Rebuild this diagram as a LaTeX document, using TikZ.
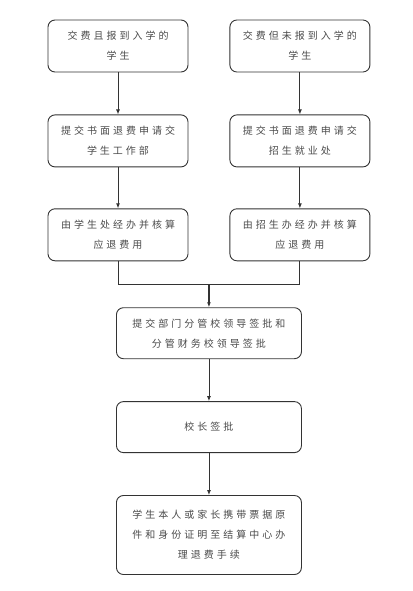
\documentclass[tikz,border=0pt]{standalone}
\usepackage{fontspec}
\usetikzlibrary{arrows.meta,positioning,calc}
\newfontfamily\cjk[LetterSpace=30]{Noto Sans CJK SC}
\definecolor{FlowLine}{HTML}{333333}
\definecolor{FlowText}{HTML}{4A4A4A}

\begin{document}
\begin{tikzpicture}[
        x=1pt, y=1pt,
        node distance=42pt,
        box/.style={draw=FlowLine, line width=0.9pt, rounded corners=7pt,
          minimum width=140pt, minimum height=52pt, align=center, text=FlowText,
          font=\cjk\fontsize{10}{20}\selectfont, inner sep=2pt},
        widebox/.style={box, minimum width=185pt, minimum height=51pt},
        arrow/.style={-{Latex[length=5pt,width=4pt]}, line width=0.9pt, draw=FlowLine}
      ]
        \useasboundingbox (0,0) rectangle (412,-591);
        \node[box] (paid) at (118,-46) {交费且报到入学的\\学生};
        \node[box, right=41pt of paid] (unpaid) {交费但未报到入学的\\学生};
        \node[box, below=of paid] (applyA) {提交书面退费申请交\\学生工作部};
        \node[box, below=of unpaid] (applyB) {提交书面退费申请交\\招生就业处};
        \node[box, below=41pt of applyA] (checkA) {由学生处经办并核算\\应退费用};
        \node[box, below=41pt of applyB] (checkB) {由招生办经办并核算\\应退费用};
        \coordinate (join) at ($(checkA.south)!0.5!(checkB.south) + (0,-23)$);
        \node[widebox, below=23pt of join] (leaders) {提交部门分管校领导签批和\\分管财务校领导签批};
        \node[widebox, below=of leaders] (head) {校长签批};
        \node[widebox, below=of head, minimum height=79pt] (finish) {学生本人或家长携带票据原\\件和身份证明至结算中心办\\理退费手续};
        \draw[arrow] (paid) -- (applyA);
        \draw[arrow] (unpaid) -- (applyB);
        \draw[arrow] (applyA) -- (checkA);
        \draw[arrow] (applyB) -- (checkB);
        \draw[line width=0.9pt, draw=FlowLine] (checkA.south) |- (join) -| (checkB.south);
        \draw[arrow, line width=1.6pt] (join) -- (leaders);
        \draw[arrow] (leaders) -- (head);
        \draw[arrow] (head) -- (finish);
      \end{tikzpicture}
\end{document}
